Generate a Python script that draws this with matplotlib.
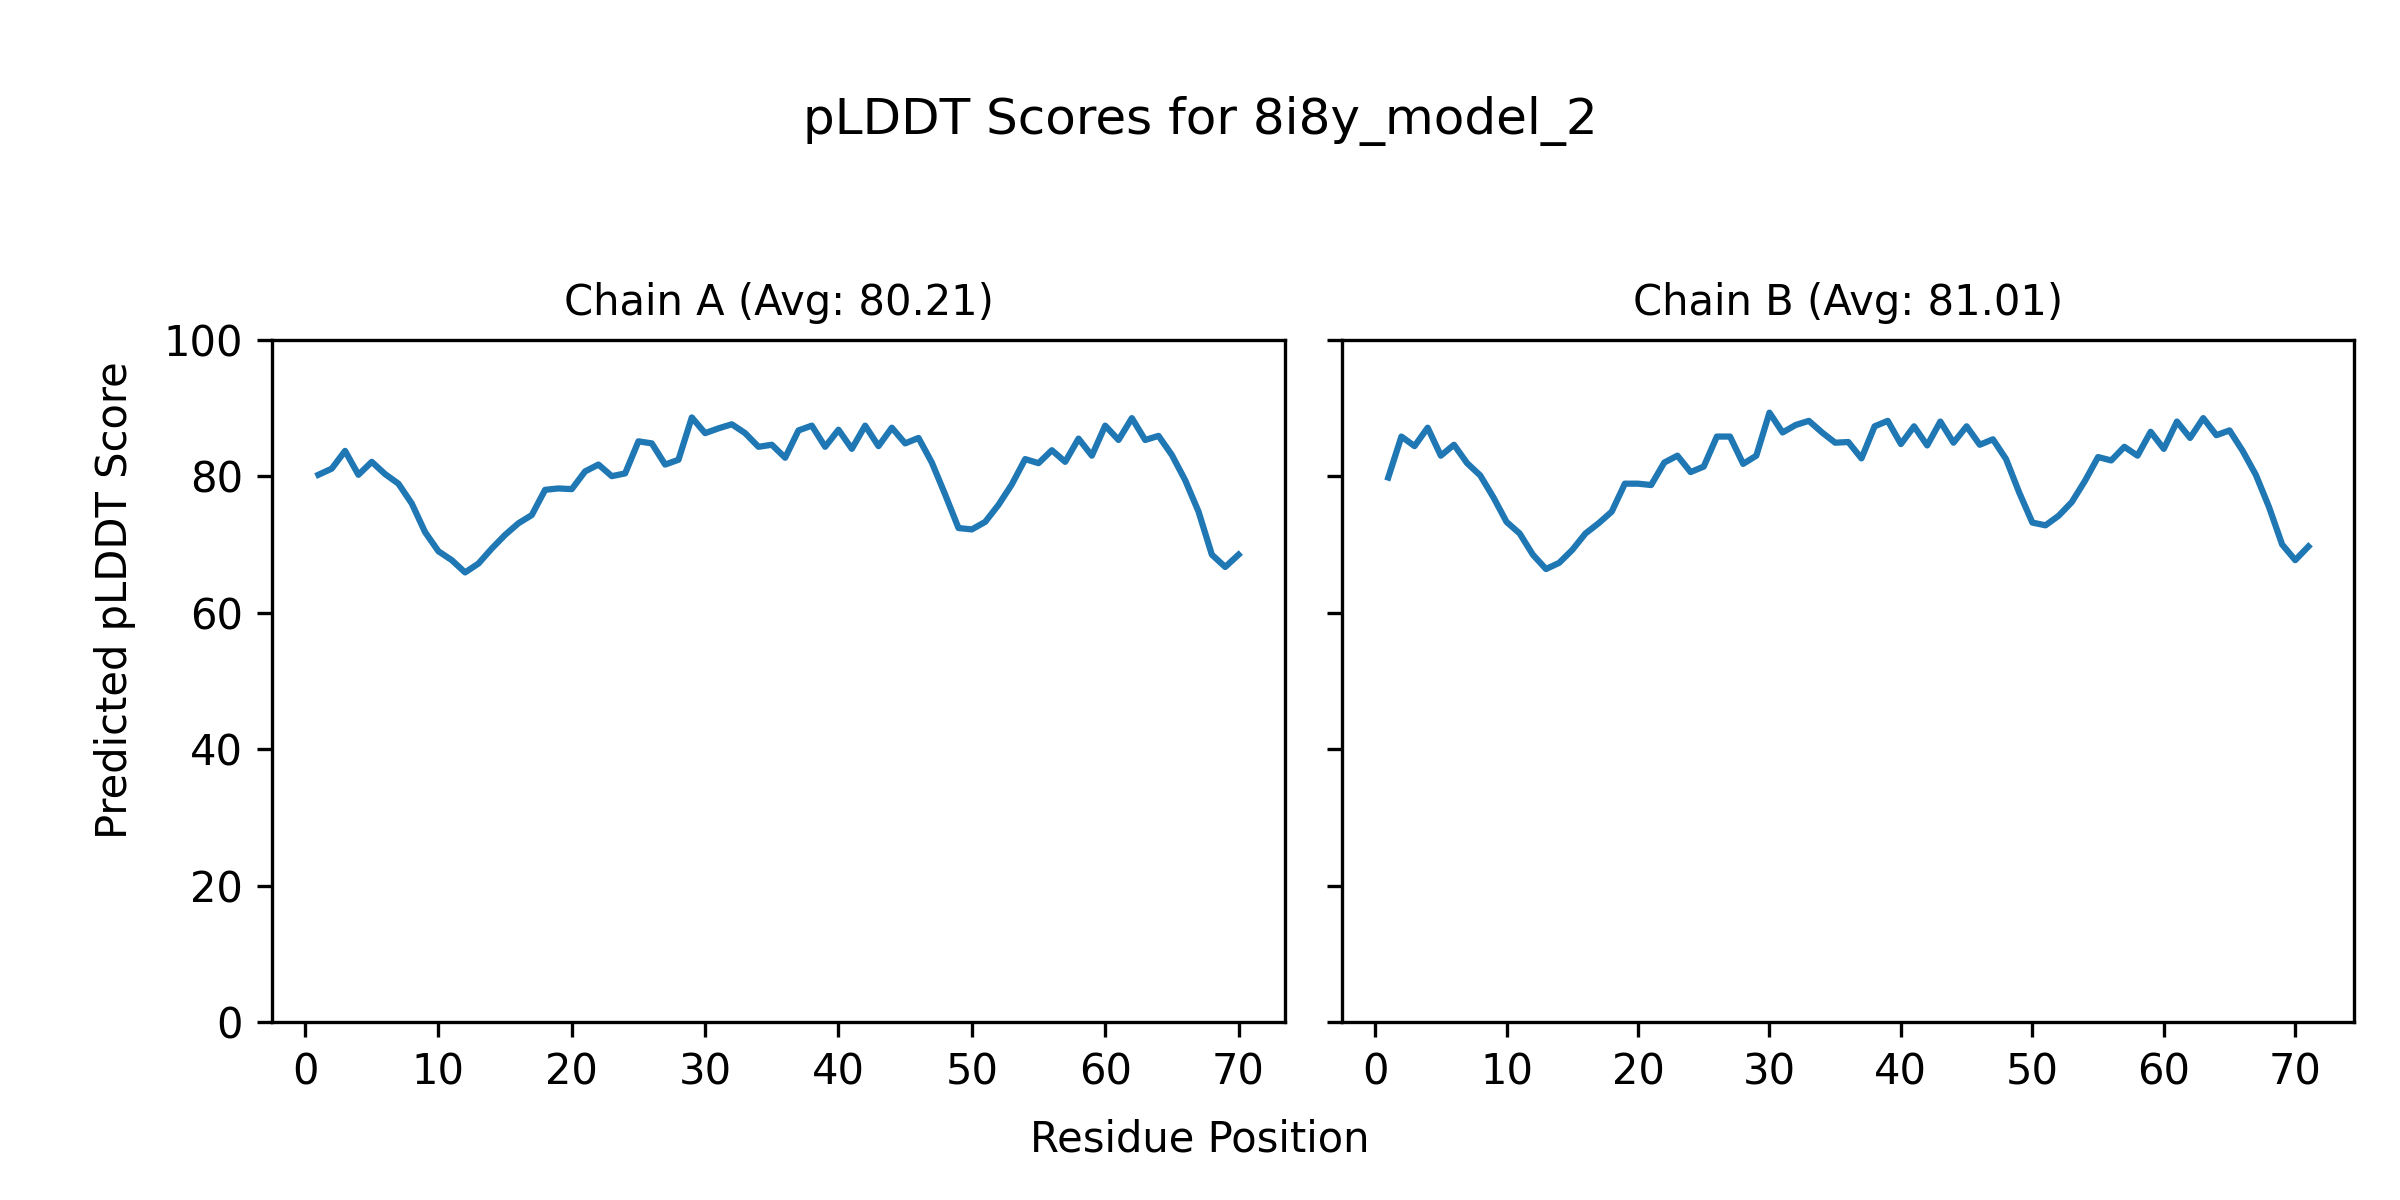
import numpy as np
import matplotlib
matplotlib.use("Agg")
import matplotlib.pyplot as plt

# pLDDT values, one per residue
chain_a = [80.2, 81.1, 83.7, 80.2, 82.1, 80.3, 78.9, 76.0, 71.8, 69.0,
           67.7, 65.9, 67.2, 69.4, 71.4, 73.1, 74.3, 78.0, 78.2, 78.1,
           80.7, 81.7, 80.0, 80.4, 85.1, 84.8, 81.7, 82.4, 88.6, 86.3,
           87.0, 87.6, 86.3, 84.3, 84.6, 82.7, 86.7, 87.4, 84.3, 86.8,
           84.0, 87.4, 84.4, 87.1, 84.8, 85.6, 82.0, 77.3, 72.4, 72.2,
           73.3, 75.8, 78.8, 82.5, 81.9, 83.8, 82.1, 85.5, 83.0, 87.4,
           85.3, 88.5, 85.3, 85.9, 83.1, 79.4, 74.8, 68.5, 66.7, 68.5]
chain_b = [79.8, 85.8, 84.4, 87.1, 83.0, 84.6, 81.9, 80.1, 76.9, 73.3,
           71.6, 68.5, 66.4, 67.3, 69.2, 71.6, 73.1, 74.8, 78.9, 78.9,
           78.7, 82.0, 83.0, 80.6, 81.4, 85.8, 85.8, 81.8, 83.0, 89.3,
           86.4, 87.5, 88.1, 86.4, 84.9, 85.0, 82.6, 87.3, 88.1, 84.7,
           87.3, 84.5, 88.0, 84.9, 87.3, 84.6, 85.4, 82.5, 77.6, 73.2,
           72.8, 74.2, 76.2, 79.3, 82.8, 82.3, 84.3, 83.0, 86.5, 84.0,
           88.0, 85.6, 88.5, 86.0, 86.7, 83.7, 80.2, 75.5, 70.0, 67.7,
           69.7]
chain_names = ["A", "B"]
chain_avgs = [80.21, 81.01]

fig, axes = plt.subplots(1, 2, figsize=(8, 4), dpi=300, sharey=True)

for ax, name, scores, avg in zip(axes, chain_names, [chain_a, chain_b], chain_avgs):
    pos = np.arange(1, len(scores) + 1)
    ax.plot(pos, scores, color="#1f77b4", linewidth=1.5)
    ax.set_title(f"Chain {name} (Avg: {avg:.2f})", fontsize=10)
    ax.set_ylim(0, 100)

fig.suptitle("pLDDT Scores for 8i8y_model_2", fontsize=12, y=0.92)
fig.supxlabel("Residue Position", fontsize=10, y=0.033)
fig.supylabel("Predicted pLDDT Score", fontsize=10, x=0.039)

plt.subplots_adjust(left=0.1135, right=0.981, bottom=0.148, top=0.717, wspace=0.057)
plt.savefig("out.png", dpi=300)
